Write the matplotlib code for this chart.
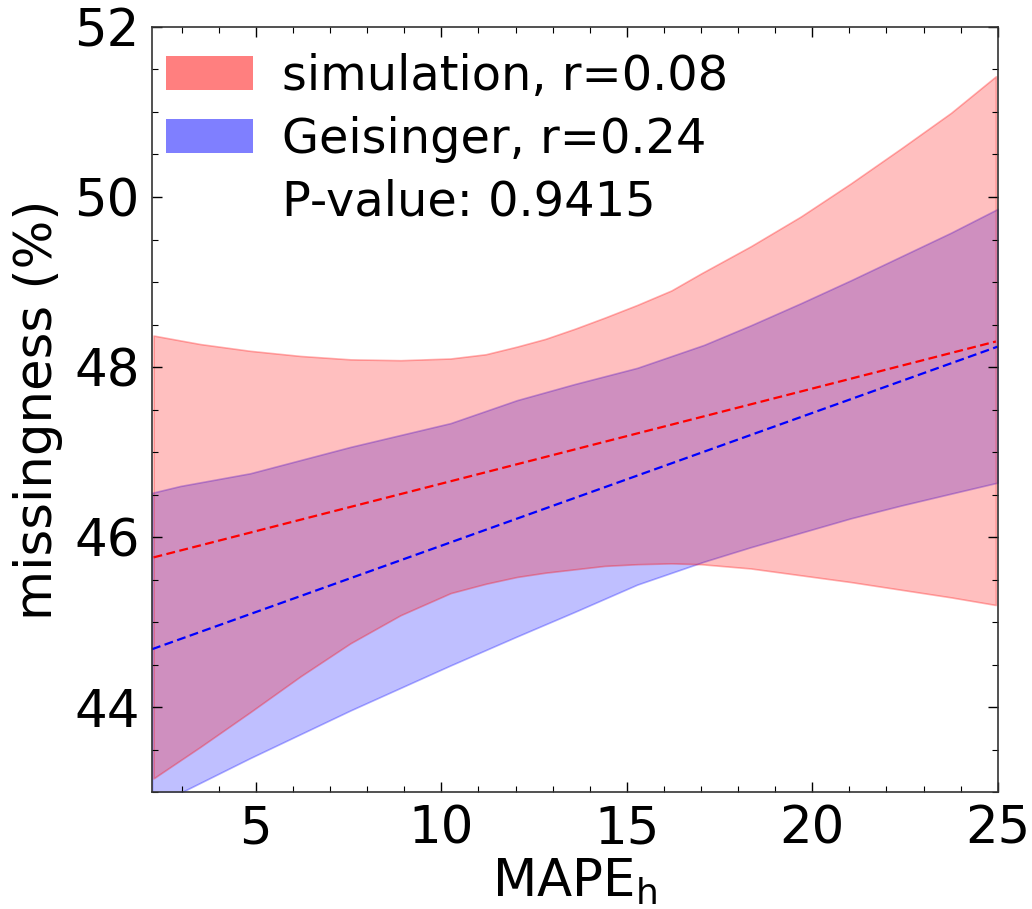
from matplotlib import pyplot as plt
from matplotlib.patches import Patch
from matplotlib.ticker import MultipleLocator
import numpy as np

# fitted regression lines (end points)
simX = [2.24, 24.95]
simY = [45.76, 48.30]
geiX = [2.2, 25.0]
geiY = [44.68, 48.24]

# confidence bands
simBandX = [2.24, 3.5, 4.85, 6.2, 7.55, 8.9, 10.25, 11.2, 12.04, 12.8, 13.6, 14.4, 15.28, 16.2, 17.0,
            18.34, 19.69, 21.04, 22.39, 23.74, 24.95]
simUpper = [48.37, 48.27, 48.19, 48.13, 48.09, 48.08, 48.10, 48.15, 48.24, 48.33, 48.45, 48.58, 48.73, 48.90, 49.10,
            49.42, 49.77, 50.16, 50.57, 50.99, 51.42]
simLower = [43.16, 43.53, 43.94, 44.36, 44.75, 45.08, 45.34, 45.45, 45.53, 45.58, 45.62, 45.66, 45.68, 45.69, 45.68,
            45.63, 45.55, 45.47, 45.38, 45.29, 45.20]

geiBandX = [2.2, 2.96, 4.85, 7.55, 10.25, 12.04, 13.6, 15.28, 17.08, 18.34, 19.69, 21.04, 22.39, 23.74, 25.0]
geiUpper = [46.52, 46.60, 46.75, 47.06, 47.34, 47.61, 47.80, 47.99, 48.26, 48.49, 48.75, 49.02, 49.30, 49.58, 49.86]
geiLower = [42.83, 42.99, 43.40, 43.96, 44.49, 44.83, 45.12, 45.44, 45.71, 45.88, 46.05, 46.22, 46.37, 46.51, 46.64]

labels = ['simulation, r=0.08', 'Geisinger, r=0.24', 'P-value: 0.9415']

fig = plt.figure(figsize=(10.32, 9.09), dpi=100)
ax = fig.add_axes([0.1473, 0.1287, 0.8195, 0.8416])

# blue first, red on top
ax.fill_between(geiBandX, geiLower, geiUpper, facecolor=(0, 0, 1, 0.25), edgecolor=(0, 0, 1, 0.3), linewidth=1.2)
ax.fill_between(simBandX, simLower, simUpper, facecolor=(1, 0, 0, 0.25), edgecolor=(1, 0, 0, 0.3), linewidth=1.2)
ax.plot(simX, simY, color='red', linestyle='--', linewidth=1.6, dashes=(4, 2))
ax.plot(geiX, geiY, color='blue', linestyle='--', linewidth=1.6, dashes=(4, 2))

ax.set_xlim(2.2, 25)
ax.set_ylim(43, 52)
ax.set_xticks([5, 10, 15, 20, 25])
ax.set_yticks([44, 46, 48, 50, 52])
ax.xaxis.set_minor_locator(MultipleLocator(1))
ax.yaxis.set_minor_locator(MultipleLocator(0.5))
ax.tick_params(which='both', direction='in', top=True, right=True, labelsize=37, pad=9)
ax.tick_params(which='major', length=7, width=1)
ax.tick_params(which='minor', length=4, width=0.8)
for s in ax.spines.values():
    s.set_color('#333333')
    s.set_linewidth(1.2)

ax.set_xlabel('MAPE$_\\mathrm{h}$', fontsize=37, labelpad=2)
ax.set_ylabel('missingness (%)', fontsize=37, labelpad=8)

handles = [Patch(facecolor=(1, 0, 0, 0.5)), Patch(facecolor=(0, 0, 1, 0.5)), Patch(facecolor='none', edgecolor='none')]
ax.legend(handles, labels, loc='upper left', bbox_to_anchor=(0.0, 0.985), frameon=False, fontsize=34.5,
          handlelength=1.8, handletextpad=0.62, borderaxespad=0.1, borderpad=0.2, labelspacing=0.33)

fig.savefig('out.png', dpi=100)
